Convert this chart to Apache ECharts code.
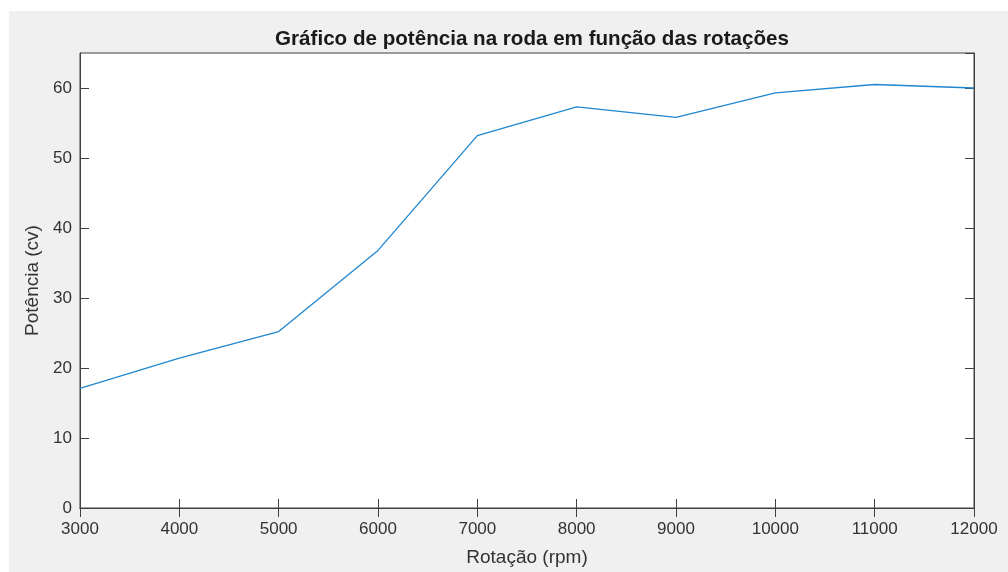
<!DOCTYPE html>
<html>
<head>
<meta charset="utf-8">
<script src="https://cdn.jsdelivr.net/npm/echarts@6/dist/echarts.min.js"></script>
<style>
  html, body { margin: 0; padding: 0; background: #fff; }
  #chart { position: absolute; left: 9px; top: 11px; width: 999px; height: 561px; background: #f0f0f0; }
</style>
</head>
<body>
<div id="chart"></div>
<script>
// rotação (rpm) e potência na roda (cv)
const rotacao = [3000, 4000, 5000, 6000, 7000, 8000, 9000, 10000, 11000, 12000];
const potencia = [17.1, 21.4, 25.2, 36.8, 53.2, 57.3, 55.8, 59.3, 60.5, 60.0];

const axisColor = '#404040';
const font = 'Liberation Sans, Arial, Helvetica, sans-serif';

const chart = echarts.init(document.getElementById('chart'));

const pontos = rotacao.map((r, i) => [r, potencia[i]]);

// ticks para dentro nos quatro lados, estilo MATLAB
function eixoX(pos, labels) {
  return {
    type: 'value', position: pos, min: 3000, max: 12000, interval: 1000,
    axisLine: { show: true, lineStyle: { color: axisColor, width: 1 } },
    axisTick: { show: true, inside: true, length: 9, lineStyle: { color: axisColor } },
    axisLabel: {
      show: labels, color: '#333', fontFamily: font, fontSize: 17, margin: 13,
      formatter: v => String(v)
    },
    splitLine: { show: false },
    name: labels ? 'Rotação (rpm)' : '',
    nameLocation: 'middle', nameGap: 40,
    nameTextStyle: { color: '#333', fontFamily: font, fontSize: 19 }
  };
}

function eixoY(pos, labels) {
  return {
    type: 'value', position: pos, min: 0, max: 65, interval: 10,
    axisLine: { show: true, lineStyle: { color: axisColor, width: 1 } },
    axisTick: { show: true, inside: true, length: 9, lineStyle: { color: axisColor } },
    axisLabel: {
      show: labels, showMaxLabel: false, color: '#333', fontFamily: font, fontSize: 17, margin: 8,
      formatter: v => String(v)
    },
    splitLine: { show: false },
    name: labels ? 'Potência (cv)' : '',
    nameLocation: 'middle', nameGap: 34, nameRotate: 90,
    nameTextStyle: { color: '#333', fontFamily: font, fontSize: 19 }
  };
}

chart.setOption({
  animation: false,
  backgroundColor: '#f0f0f0',
  title: {
    text: 'Gráfico de potência na roda em função das rotações',
    left: 518, top: 13, textAlign: 'center',
    textStyle: { color: '#1a1a1a', fontFamily: font, fontSize: 20.6, fontWeight: 'bold' }
  },
  grid: {
    left: 71, top: 42, right: 34, bottom: 61,
    show: true, backgroundColor: '#fff', borderColor: axisColor, borderWidth: 1
  },
  xAxis: [eixoX('bottom', true), eixoX('top', false)],
  yAxis: [eixoY('left', true), eixoY('right', false)],
  series: [{
    type: 'line',
    data: pontos,
    showSymbol: false,
    lineStyle: { color: '#1f86cf', width: 1.3 },
    itemStyle: { color: '#1f86cf' }
  }]
});

window.addEventListener('resize', () => chart.resize());
</script>
</body>
</html>
